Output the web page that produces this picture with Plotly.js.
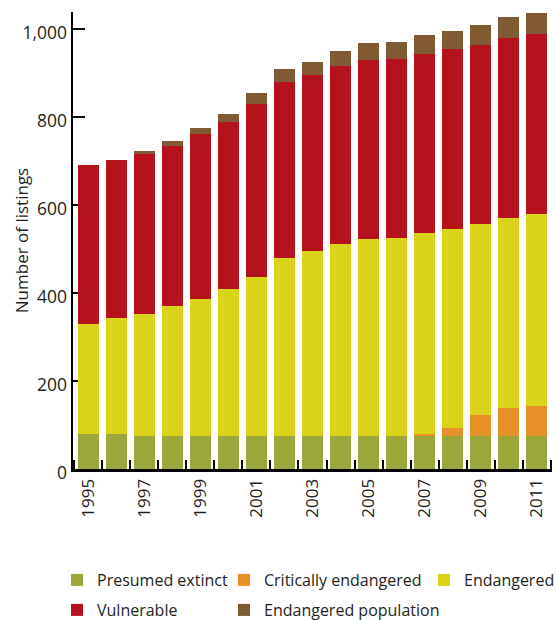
<!DOCTYPE html>
<html>
<head>
<meta charset="utf-8">
<script src="https://cdn.plot.ly/plotly-3.0.1.min.js"></script>
<style>
html,body{margin:0;padding:0;background:#fff;}
#chart{width:556px;height:620px;}
</style>
</head>
<body>
<div id="chart"></div>
<script>
const years = [1995,1996,1997,1998,1999,2000,2001,2002,2003,2004,2005,2006,2007,2008,2009,2010,2011];
const presumedExtinct = [79,80,76,76,76,76,76,76,76,76,74,74,74,74,74,74,74];
const criticallyEndangered = [0,0,0,0,0,0,0,0,0,0,0,0,6,20,49,65,70];
const endangered = [251,263,277,295,310,333,360,404,420,435,449,451,456,451,434,431,436];
const vulnerable = [361,359,363,363,375,380,394,400,400,405,407,407,407,410,407,410,409];
const endangeredPopulation = [0,0,7,12,14,18,25,29,29,34,38,39,43,41,45,47,47];
const yearTickLabels = ["1995","1997","1999","2001","2003","2005","2007","2009","2011"];
const countTickVals = [0,200,400,600,800,1000];
const countTickLabels = ["0","200","400","600","800","1,000"];

const FONT = "'Open Sans', 'Noto Sans', sans-serif";
const TXT = "#231f20";

// x ticks: marks at the boundaries between years (label-less) plus labels at every other year
const xTickVals = [];
const xTickText = [];
years.forEach(function (yr) {
  xTickVals.push(yr - 0.5); xTickText.push('');
  const lbl = yearTickLabels.indexOf(String(yr));
  if (lbl >= 0) { xTickVals.push(yr); xTickText.push(yearTickLabels[lbl]); }
});
xTickVals.push(years[years.length - 1] + 0.5); xTickText.push('');

function bar(name, vals, color, legend) {
  return {
    type: 'bar', name: name, x: years, y: vals,
    marker: {color: color, line: {width: 0}},
    legend: legend,
    hoverinfo: 'skip'
  };
}

const data = [
  bar('Presumed extinct', presumedExtinct, '#9ca739', 'legend'),
  bar('Critically endangered', criticallyEndangered, '#e8912a', 'legend2'),
  bar('Endangered', endangered, '#d9d41a', 'legend3'),
  bar('Vulnerable', vulnerable, '#b5121e', 'legend4'),
  bar('Endangered population', endangeredPopulation, '#7f5a33', 'legend5')
];

function legendAt(xPx, yPx) {
  return {
    xref: 'container', yref: 'container', xanchor: 'left', yanchor: 'top',
    x: xPx / 556, y: 1 - yPx / 620,
    orientation: 'h', bgcolor: 'rgba(0,0,0,0)', borderwidth: 0,
    font: {family: FONT, size: 16, color: TXT}
  };
}

const layout = {
  width: 556, height: 620,
  paper_bgcolor: '#fff', plot_bgcolor: '#fff',
  margin: {l: 73, r: 4, t: 12, b: 151, autoexpand: false},
  barmode: 'stack', bargap: 0.25,
  font: {family: FONT, color: TXT},
  xaxis: {
    type: 'linear', range: [1994.46, 2011.54], fixedrange: true,
    tickmode: 'array', tickvals: xTickVals, ticktext: xTickText,
    ticks: 'inside', ticklen: 9, tickwidth: 2, tickcolor: '#000',
    tickangle: -90, tickfont: {family: FONT, size: 17, color: TXT},
    showgrid: false, zeroline: false,
    showline: true, linecolor: '#000', linewidth: 3,
    layer: 'below traces'
  },
  yaxis: {
    range: [0, 1039], fixedrange: true,
    tickmode: 'array', tickvals: countTickVals, ticktext: countTickLabels,
    ticks: 'inside', ticklen: 12, tickwidth: 2.5, tickcolor: '#000',
    tickfont: {family: FONT, size: 17.5, color: TXT},
    ticklabelshift: 4,
    showgrid: false, zeroline: false,
    showline: true, linecolor: '#000', linewidth: 2.5,
    layer: 'below traces',
    title: {text: 'Number of listings', font: {family: FONT, size: 17, color: TXT}}
  },
  legend: legendAt(57, 563),
  legend2: legendAt(224, 563),
  legend3: legendAt(424, 563),
  legend4: legendAt(57, 593),
  legend5: legendAt(224, 593),
  showlegend: true
};

Plotly.newPlot('chart', data, layout, {displayModeBar: false, staticPlot: true});
</script>
</body>
</html>
